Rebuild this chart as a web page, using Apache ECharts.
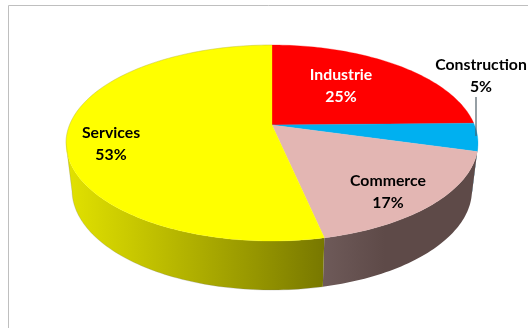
<!DOCTYPE html>
<html><head><meta charset="utf-8">
<style>html,body{margin:0;padding:0;background:#fff}#c{width:528px;height:328px}</style>
<script src="https://cdn.jsdelivr.net/npm/echarts@6/dist/echarts.min.js"></script>
</head><body><div id="c"></div>
<script>
const categories = ['Industrie', 'Construction', 'Commerce', 'Services'];
const shares = [24.7, 4.6, 17.3, 53.4];
const topColors = ['#ff0000', '#00b0f0', '#e3b6b3', '#ffff00'];
const labelColors = ['#ffffff', '#000000', '#000000', '#000000'];
const labelAnchors = [[341, 86], [481, 76], [388, 192], [111, 144]];

const CX = 272, TOP_CY = 143, TOP_RX = 206, TOP_RY = 98;
const BOT_CY = 190, BOT_RX = 200, BOT_RY = 100;
const A = -0.184; // perspective shift of the pie's apex inside the ellipse
const total = shares.reduce((a, b) => a + b, 0);

function rim(frac) {
  const t = frac * 2 * Math.PI, x = Math.sin(t), y = -Math.cos(t), d = 1 + A * y;
  return [x * Math.sqrt(1 - A * A) / d, (y + A) / d];
}
const topPt = u => [CX + TOP_RX * u[0], TOP_CY + TOP_RY * u[1]];
const botPt = u => [CX + BOT_RX * u[0], BOT_CY + BOT_RY * u[1]];

function sideFill(i) {
  if (i === 3) return {type:'linear', x:66, y:0, x2:324, y2:0, global:true, colorStops:[
    {offset:0, color:'#e2e200'}, {offset:0.25, color:'#c9c900'}, {offset:0.75, color:'#949400'}, {offset:1, color:'#787800'}]};
  if (i === 2) return {type:'linear', x:323, y:0, x2:385, y2:0, global:true, colorStops:[
    {offset:0, color:'#6e5a59'}, {offset:1, color:'#5e4a48'}]};
  return i === 1 ? '#00608a' : '#8c0000';
}

function renderItem(params, api) {
  const i = api.value(0), before = api.value(1), share = api.value(2);
  const f0 = before / total, f1 = (before + share) / total;
  const pts = [];
  const N = Math.max(4, Math.ceil(share * 3));
  for (let k = 0; k <= N; k++) pts.push(rim(f0 + (f1 - f0) * k / N));
  const children = [];
  const vis = pts.filter(u => u[1] >= 0);
  if (vis.length > 1) {
    const poly = vis.map(topPt).concat(vis.slice().reverse().map(botPt));
    children.push({type:'polygon', z2:1, shape:{points:poly}, style:{fill:sideFill(i), stroke:null}});
  }
  const apex = [CX, TOP_CY + TOP_RY * A];
  children.push({type:'polygon', z2:2, shape:{points:[apex].concat(pts.map(topPt))},
    style:{fill:topColors[i], stroke:topColors[i], lineWidth:0.3}});
  if (i === 3) {
    const outline = vis.map(botPt).concat(pts.filter(u => u[1] < 0).map(topPt));
    children.push({type:'polyline', z2:3, shape:{points:outline},
      style:{fill:null, stroke:'rgba(120,120,120,0.3)', lineWidth:0.8}});
  }
  const pct = Math.round(share / total * 100) + '%';
  children.push({type:'text', z2:5, style:{
    text: categories[i] + '\n' + pct, x: labelAnchors[i][0], y: labelAnchors[i][1],
    fill: labelColors[i], font: 'bold 15.8px Lato, sans-serif', align:'center', verticalAlign:'middle', lineHeight:22
  }});
  return {type:'group', children};
}

let run = 0;
const rows = shares.map((v, i) => { const r = [i, run, v]; run += v; return r; });

const chart = echarts.init(document.getElementById('c'), null, {renderer:'canvas', width:528, height:328});
chart.setOption({
  animation:false,
  backgroundColor:'#ffffff',
  graphic:[
    {type:'rect', z:-1, shape:{x:8.5, y:5.5, width:560, height:360}, style:{fill:'#ffffff', stroke:'#bfbfbf', lineWidth:1}},
    {type:'line', z:50, shape:{x1:476, y1:97, x2:476, y2:136}, style:{stroke:'#4f5f68', lineWidth:1.2}}
  ],
  series:[{type:'custom', coordinateSystem:'none', renderItem, data:rows, silent:true, clip:false}]
});
</script></body></html>
